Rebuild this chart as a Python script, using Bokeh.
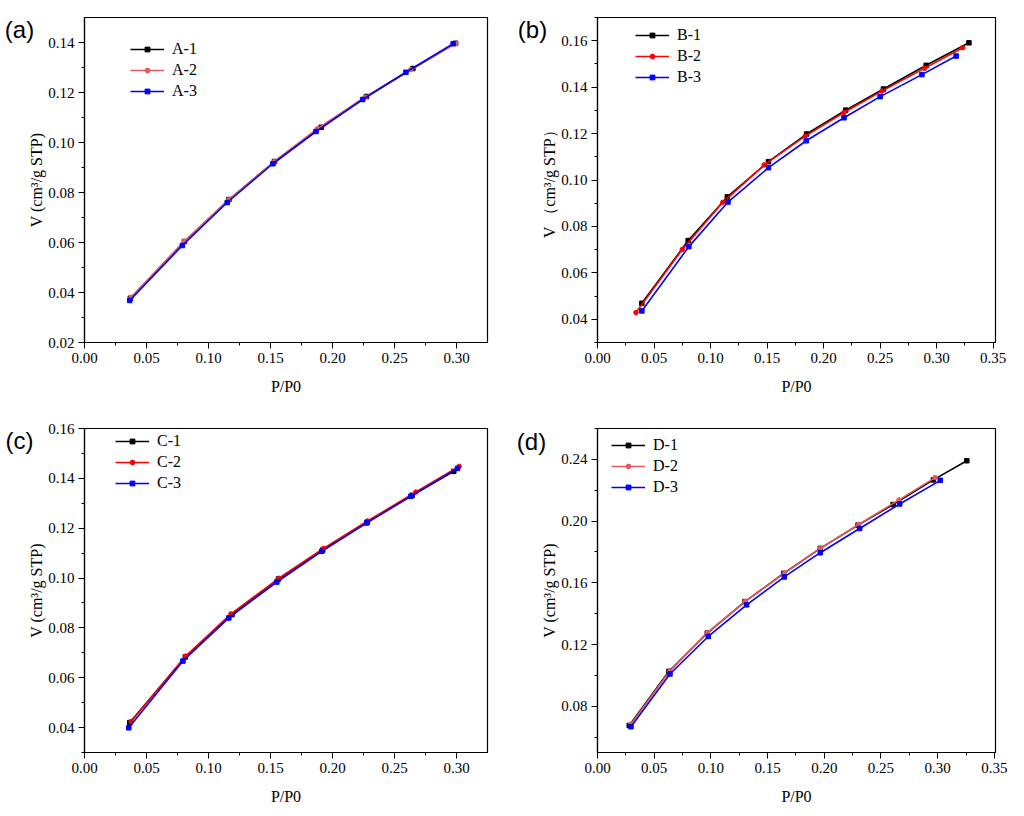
from bokeh.plotting import figure
from bokeh.layouts import gridplot
from bokeh.models import (Label, Legend, LegendItem, SingleIntervalTicker,
                          NumeralTickFormatter, Range1d)
from bokeh.embed import file_html
from bokeh.resources import INLINE

# ---- data ----
a1_x = [0.0370, 0.0806, 0.1165, 0.1532, 0.1909, 0.2274, 0.2648, 0.2992]
a1_y = [0.0377, 0.0604, 0.0772, 0.0924, 0.1061, 0.1184, 0.1296, 0.1397]
a2_x = [0.0376, 0.0805, 0.1164, 0.1529, 0.1878, 0.2262, 0.2632, 0.2994]
a2_y = [0.0381, 0.0605, 0.0771, 0.0923, 0.1055, 0.1181, 0.1292, 0.1396]
a3_x = [0.0365, 0.0789, 0.1151, 0.1519, 0.1867, 0.2243, 0.2592, 0.2973]
a3_y = [0.0368, 0.0588, 0.0760, 0.0915, 0.1044, 0.1172, 0.1281, 0.1395]

b1_x = [0.0392, 0.0802, 0.1148, 0.1512, 0.1849, 0.2195, 0.2529, 0.2907, 0.3285]
b1_y = [0.0469, 0.0739, 0.0927, 0.1079, 0.1198, 0.1301, 0.1392, 0.1494, 0.1591]
b2_x = [0.0340, 0.0750, 0.1108, 0.1474, 0.1837, 0.2180, 0.2515, 0.2892, 0.3230]
b2_y = [0.0429, 0.0701, 0.0904, 0.1065, 0.1189, 0.1291, 0.1383, 0.1481, 0.1570]
b3_x = [0.0392, 0.0808, 0.1154, 0.1512, 0.1846, 0.2180, 0.2500, 0.2869, 0.3172]
b3_y = [0.0436, 0.0713, 0.0905, 0.1053, 0.1169, 0.1268, 0.1359, 0.1454, 0.1534]

c1_x = [0.0365, 0.0813, 0.1189, 0.1564, 0.1921, 0.2281, 0.2643, 0.2978]
c1_y = [0.0420, 0.0683, 0.0853, 0.0996, 0.1112, 0.1225, 0.1332, 0.1428]
c2_x = [0.0376, 0.0816, 0.1181, 0.1567, 0.1927, 0.2283, 0.2672, 0.3021]
c2_y = [0.0424, 0.0687, 0.0856, 0.0999, 0.1119, 0.1229, 0.1345, 0.1448]
c3_x = [0.0357, 0.0794, 0.1164, 0.1551, 0.1913, 0.2275, 0.2632, 0.3008]
c3_y = [0.0399, 0.0667, 0.0840, 0.0984, 0.1107, 0.1221, 0.1328, 0.1440]

d1_x = [0.0280, 0.0630, 0.0968, 0.1300, 0.1642, 0.1965, 0.2298, 0.2607, 0.2962, 0.3257]
d1_y = [0.0675, 0.1026, 0.1274, 0.1478, 0.1661, 0.1823, 0.1974, 0.2107, 0.2267, 0.2391]
d2_x = [0.0295, 0.0636, 0.0968, 0.1300, 0.1647, 0.1965, 0.2303, 0.2659, 0.2977]
d2_y = [0.0684, 0.1026, 0.1276, 0.1478, 0.1661, 0.1823, 0.1978, 0.2137, 0.2282]
d3_x = [0.0295, 0.0639, 0.0977, 0.1315, 0.1647, 0.1965, 0.2312, 0.2665, 0.3023]
d3_y = [0.0667, 0.1009, 0.1252, 0.1457, 0.1638, 0.1795, 0.1952, 0.2111, 0.2264]

SERIF = "Liberation Serif"
YLABEL = "V (cm\u00b3/g STP)"


def make_panel(tag, series, xmax, yrange, ystep, ylabel,
               size, borders, legend_xy, tag_xy):
    w, h = size
    left, right, top, bottom = borders
    p = figure(width=w, height=h, output_backend="svg", toolbar_location=None,
               x_range=Range1d(0, xmax), y_range=Range1d(*yrange),
               min_border_left=left, min_border_right=right,
               min_border_top=top, min_border_bottom=bottom)
    p.background_fill_color = "white"
    p.border_fill_color = "white"
    p.outline_line_color = "black"
    p.outline_line_width = 1.2
    p.xgrid.visible = False
    p.ygrid.visible = False

    p.xaxis.ticker = SingleIntervalTicker(interval=0.05, num_minor_ticks=2)
    p.yaxis.ticker = SingleIntervalTicker(interval=ystep, num_minor_ticks=2)
    p.xaxis.formatter = NumeralTickFormatter(format="0.00")
    p.yaxis.formatter = NumeralTickFormatter(format="0.00")
    p.xaxis.axis_label = "P/P0"
    p.yaxis.axis_label = ylabel
    for ax in (p.xaxis, p.yaxis):
        ax.axis_line_color = "black"
        ax.axis_line_width = 1.2
        ax.major_tick_line_color = "black"
        ax.minor_tick_line_color = "black"
        ax.major_tick_in = 0
        ax.major_tick_out = 6
        ax.minor_tick_in = 0
        ax.minor_tick_out = 3
        ax.major_label_text_font = SERIF
        ax.major_label_text_font_size = "15px"
        ax.major_label_text_color = "black"
        ax.major_label_standoff = 4
        ax.axis_label_text_font = SERIF
        ax.axis_label_text_font_size = "16px"
        ax.axis_label_text_font_style = "normal"
        ax.axis_label_text_color = "black"
    p.xaxis.axis_label_standoff = 12
    p.yaxis.axis_label_standoff = 0

    items = []
    for name, xs, ys, color, marker in series:
        ln = p.line(xs, ys, line_color=color, line_width=1.6)
        sc = p.scatter(xs, ys, marker=marker, size=4.5, fill_color=color, line_color=color)
        items.append(LegendItem(label=name, renderers=[ln, sc]))

    legend = Legend(items=items, location=legend_xy)
    legend.border_line_alpha = 0
    legend.background_fill_alpha = 0
    legend.padding = 0
    legend.margin = 0
    legend.spacing = 1
    legend.glyph_width = 34
    legend.glyph_height = 12
    legend.label_height = 20
    legend.label_standoff = 8
    legend.label_text_font = SERIF
    legend.label_text_font_size = "16px"
    legend.label_text_color = "black"
    p.add_layout(legend)

    # panel tag: kept in the right side panel (not clipped), shifted to the far left
    p.add_layout(Label(x=tag_xy[0], y=tag_xy[1], x_units="screen", y_units="screen",
                       text=tag, text_font="Liberation Sans", text_font_size="24px",
                       text_color="black", text_align="center", text_baseline="middle"),
                 "right")
    return p


RED_L = "#e8585a"
pa = make_panel("(a)", [("A-1", a1_x, a1_y, "black", "square"),
                        ("A-2", a2_x, a2_y, RED_L, "circle"),
                        ("A-3", a3_x, a3_y, "blue", "square")],
                0.325, (0.02, 0.15), 0.02, YLABEL,
                (516, 412), (84, 29, 17, 70), (46, 241), (-468, 313))
pb = make_panel("(b)", [("B-1", b1_x, b1_y, "black", "square"),
                        ("B-2", b2_x, b2_y, "red", "circle"),
                        ("B-3", b3_x, b3_y, "blue", "square")],
                0.352, (0.03, 0.17), 0.02, "V \uff08cm\u00b3/g STP\uff09",
                (508, 412), (81, 24, 17, 70), (38, 255), (-463, 313))
pc = make_panel("(c)", [("C-1", c1_x, c1_y, "black", "square"),
                        ("C-2", c2_x, c2_y, "red", "circle"),
                        ("C-3", c3_x, c3_y, "blue", "square")],
                0.325, (0.03, 0.16), 0.02, YLABEL,
                (516, 400), (84, 29, 15, 60), (31, 259), (-468, 312))
pd_ = make_panel("(d)", [("D-1", d1_x, d1_y, "black", "square"),
                         ("D-2", d2_x, d2_y, RED_L, "circle"),
                         ("D-3", d3_x, d3_y, "blue", "square")],
                 0.351, (0.05, 0.26), 0.04, YLABEL,
                 (508, 400), (81, 24, 16, 60), (14, 255), (-464, 311))

p = gridplot([[pa, pb], [pc, pd_]], toolbar_location=None)

open("out.html", "w").write(file_html(p, INLINE))
